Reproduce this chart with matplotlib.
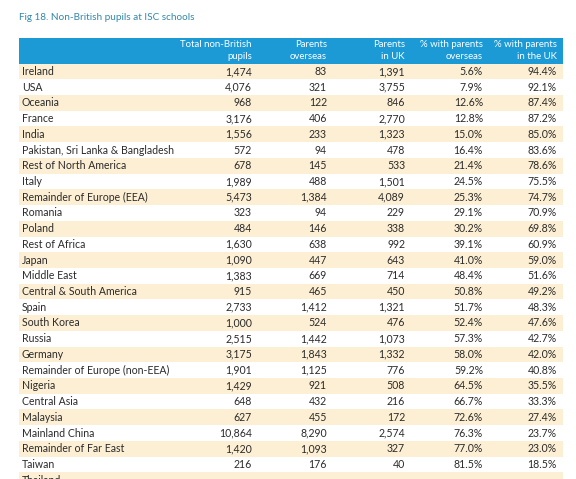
import matplotlib
matplotlib.use("Agg")
import matplotlib.pyplot as plt
from matplotlib.patches import Rectangle

plt.rcParams.update({"font.family": ["Lato", "DejaVu Sans"]})

TITLE = "Fig 18. Non-British pupils at ISC schools"
HEADERS = ["Total non-British\npupils", "Parents\noverseas", "Parents\nin UK",
           "% with parents\noverseas", "% with parents\nin the UK"]
regions = ["Ireland", "USA", "Oceania", "France", "India",
           "Pakistan, Sri Lanka & Bangladesh", "Rest of North America", "Italy",
           "Remainder of Europe (EEA)", "Romania", "Poland", "Rest of Africa",
           "Japan", "Middle East", "Central & South America", "Spain",
           "South Korea", "Russia", "Germany", "Remainder of Europe (non-EEA)",
           "Nigeria", "Central Asia", "Malaysia", "Mainland China",
           "Remainder of Far East", "Taiwan"]
total = [1474, 4076, 968, 3176, 1556, 572, 678, 1989, 5473, 323, 484, 1630,
         1090, 1383, 915, 2733, 1000, 2515, 3175, 1901, 1429, 648, 627, 10864,
         1420, 216]
overseas = [83, 321, 122, 406, 233, 94, 145, 488, 1384, 94, 146, 638, 447,
            669, 465, 1412, 524, 1442, 1843, 1125, 921, 432, 455, 8290, 1093, 176]
in_uk = [1391, 3755, 846, 2770, 1323, 478, 533, 1501, 4089, 229, 338, 992,
         643, 714, 450, 1321, 476, 1073, 1332, 776, 508, 216, 172, 2574, 327, 40]
pct_overseas = [5.6, 7.9, 12.6, 12.8, 15.0, 16.4, 21.4, 24.5, 25.3, 29.1,
                30.2, 39.1, 41.0, 48.4, 50.8, 51.7, 52.4, 57.3, 58.0, 59.2,
                64.5, 66.7, 72.6, 76.3, 77.0, 81.5]
pct_uk = [94.4, 92.1, 87.4, 87.2, 85.0, 83.6, 78.6, 75.5, 74.7, 70.9, 69.8,
          60.9, 59.0, 51.6, 49.2, 48.3, 47.6, 42.7, 42.0, 40.8, 35.5, 33.3,
          27.4, 23.7, 23.0, 18.5]
# the next row is cut off at the bottom of the picture
cut_row = "Thailand"

BLUE = "#1b9ad6"
BEIGE = "#fdefd3"
TXT = "#2b2b2b"
COL_X = [252, 327, 405, 483, 557]

fig = plt.figure(figsize=(5.76, 4.79), dpi=100)
ax = fig.add_axes([0, 0, 1, 1])
ax.set_xlim(0, 576); ax.set_ylim(479, 0); ax.axis("off")

ax.text(19, 17, TITLE, fontsize=7.2, color="#3388aa", va="center", ha="left")

# header band
ax.add_patch(Rectangle((19, 38), 544, 25.5, color=BLUE, lw=0))
for x, h in zip(COL_X, HEADERS):
    ax.text(x, 50.5, h, fontsize=6.9, color="white", ha="right", va="center",
            linespacing=1.55)

row_h = 15.72
y0 = 63.6
rows = list(zip(regions, total, overseas, in_uk, pct_overseas, pct_uk))
for i, (name, t, o, u, po, pu) in enumerate(rows):
    top = y0 + i * row_h
    if i % 2 == 0:
        ax.add_patch(Rectangle((19, top), 544, row_h, color=BEIGE, lw=0))
    yc = top + row_h / 2
    ax.text(22, yc, name, fontsize=7.6, color=TXT, ha="left", va="center")
    vals = [f"{t:,}", f"{o:,}", f"{u:,}", f"{po:.1f}%", f"{pu:.1f}%"]
    for x, v in zip(COL_X, vals):
        ax.text(x, yc, v, fontsize=7.6, color=TXT, ha="right", va="center")

top = y0 + len(rows) * row_h
ax.add_patch(Rectangle((19, top), 544, row_h, color=BEIGE, lw=0))
ax.text(22, top + row_h / 2, cut_row, fontsize=7.6, color=TXT, ha="left",
        va="center")

fig.savefig("out.png", dpi=100)
